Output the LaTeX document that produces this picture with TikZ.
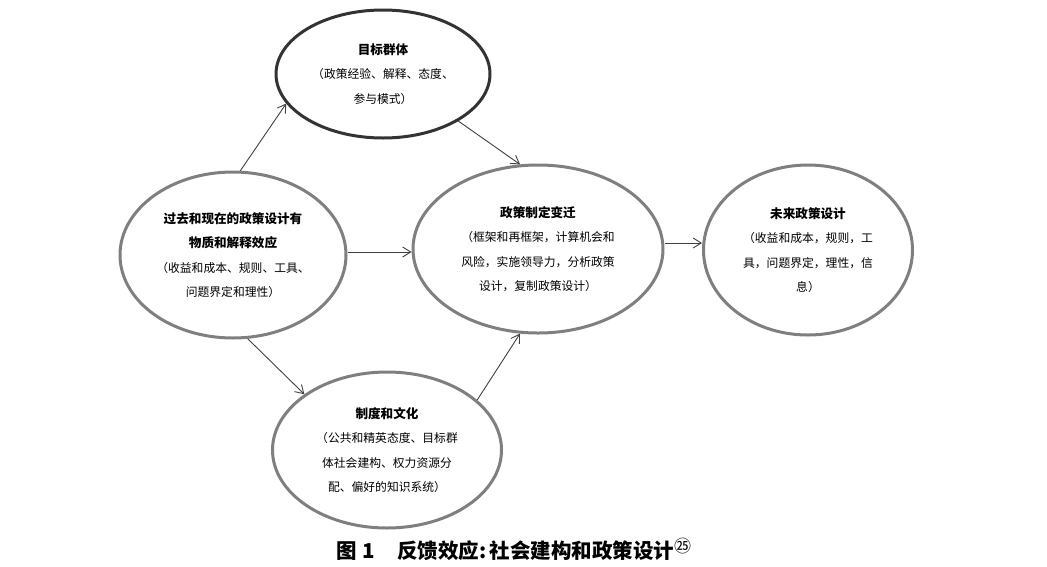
\documentclass[tikz,border=0pt]{standalone}
\usepackage{fontspec}
\newfontfamily\cjk{Noto Sans CJK SC}
\usetikzlibrary{shapes.geometric,arrows.meta}
\definecolor{darkborder}{HTML}{333333}
\definecolor{grayborder}{HTML}{7F7F7F}
\definecolor{arrowcol}{HTML}{404040}
\tikzset{
  bubble/.style={ellipse, draw=grayborder, line width=3pt, inner sep=0pt, align=center,
    font=\cjk\fontsize{11.8}{24.5}\selectfont, text=black},
  darkbubble/.style={bubble, draw=darkborder},
  arr/.style={draw=arrowcol, line width=0.9pt, -{Straight Barb[length=8pt,width=10pt,line width=0.9pt]}}
}
\newcommand{\hd}[1]{{\bfseries\fontsize{12.6}{24.5}\selectfont #1}}
\begin{document}
\begin{tikzpicture}[x=1pt,y=-1pt]
\useasboundingbox (0,0) rectangle (1047,566);
\node[darkbubble, minimum width=214pt, minimum height=128pt] (T) at (383,74)
  {\hd{目标群体}\\（政策经验、解释、态度、\\参与模式）};
\node[bubble, minimum width=226pt, minimum height=166pt] (L) at (233,255)
  {\hd{过去和现在的政策设计有}\\\hd{物质和解释效应}\\（收益和成本、规则、工具、\\问题界定和理性）};
\node[bubble, minimum width=250pt, minimum height=168pt] (C) at (538,249)
  {\hd{政策制定变迁}\\（框架和再框架，计算机会和\\风险，实施领导力，分析政策\\设计，复制政策设计）};
\node[bubble, minimum width=209pt, minimum height=170pt] (R) at (808,250)
  {\hd{未来政策设计}\\（收益和成本，规则，工\\具，问题界定，理性，信\\息）};
\node[bubble, minimum width=229pt, minimum height=156pt] (B) at (387,450)
  {\hd{制度和文化}\\（公共和精英态度、目标群\\体社会建构、权力资源分\\配、偏好的知识系统）};
\draw[arr] (L.85) -- (T.197);
\draw[arr] (T.328) -- (C.102);
\draw[arr] ([yshift=3pt]L.east) -- ([yshift=3pt]L.east -| C.west);
\draw[arr] (L.280) -- (B.146);
\draw[arr] (B.29) -- (C.258);
\draw[arr] ([yshift=6pt]C.east) -- ([yshift=6pt]C.east -| R.west);
\node[font=\cjk\bfseries\fontsize{20.5}{24}\selectfont, inner sep=0pt] (cap) at (514,549)
  {图 1\hspace{1.1em}反馈效应:\,社会建构和政策设计\raisebox{6pt}{\fontsize{17}{17}\selectfont\mdseries ㉕}};
\end{tikzpicture}
\end{document}
